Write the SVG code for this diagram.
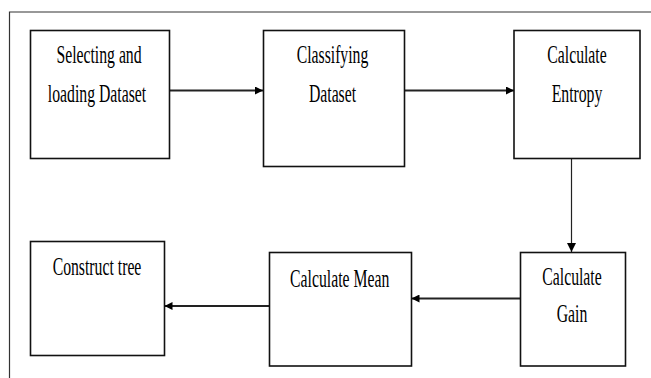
<svg xmlns="http://www.w3.org/2000/svg" width="651" height="378" viewBox="0 0 651 378">
<defs>
<style>
.box{fill:#fff;stroke:#111;stroke-width:1.6}
.t{font-family:"Liberation Serif","Times New Roman",serif;font-size:25px;fill:#000;text-anchor:middle}
.c{fill:none;stroke:#222;stroke-width:2}
.cv{fill:none;stroke:#222;stroke-width:1.2}
</style>
<marker id="ah" viewBox="0 0 10 10" refX="10" refY="5" markerWidth="8" markerHeight="8" markerUnits="userSpaceOnUse" orient="auto">
<path d="M0,0 L10,5 L0,10 z" fill="#000"/>
</marker>
<marker id="ahv" viewBox="0 0 10 10" refX="10" refY="5" markerWidth="10" markerHeight="9" markerUnits="userSpaceOnUse" orient="auto">
<path d="M0,0 L10,5 L0,10 z" fill="#000"/>
</marker>
</defs>
<rect width="651" height="378" fill="#fff"/>
<path d="M9.5,378 V12 H651" fill="none" stroke="#333" stroke-width="1.2"/>
<g id="connectors">
<line class="c" x1="170" y1="90.5" x2="263" y2="90.5" marker-end="url(#ah)"/>
<line class="c" x1="405" y1="90.5" x2="514" y2="90.5" marker-end="url(#ah)"/>
<line class="cv" x1="571.5" y1="158.5" x2="571.5" y2="252" marker-end="url(#ahv)"/>
<line class="c" x1="520.5" y1="298.5" x2="411.5" y2="298.5" marker-end="url(#ah)"/>
<line class="c" x1="269" y1="306" x2="164.5" y2="306" marker-end="url(#ah)"/>
</g>
<g id="n1">
<rect class="box" x="30.5" y="30.5" width="139" height="128"/>
<text class="t" transform="translate(99,63.3) scale(0.63,1)">Selecting and</text>
<text class="t" transform="translate(97,101.7) scale(0.63,1)">loading Dataset</text>
</g>
<g id="n2">
<rect class="box" x="263.5" y="30.5" width="141" height="136"/>
<text class="t" transform="translate(332.5,63.3) scale(0.63,1)">Classifying</text>
<text class="t" transform="translate(332.5,101.7) scale(0.63,1)">Dataset</text>
</g>
<g id="n3">
<rect class="box" x="514" y="30.5" width="126" height="128"/>
<text class="t" transform="translate(577,62.7) scale(0.63,1)">Calculate</text>
<text class="t" transform="translate(577,101.7) scale(0.63,1)">Entropy</text>
</g>
<g id="n4">
<rect class="box" x="520.5" y="252.5" width="105" height="113.5"/>
<text class="t" transform="translate(572,285) scale(0.63,1)">Calculate</text>
<text class="t" transform="translate(572,321.7) scale(0.63,1)">Gain</text>
</g>
<g id="n5">
<rect class="box" x="269.5" y="252.5" width="142" height="113.5"/>
<text class="t" transform="translate(339.7,286.7) scale(0.63,1)">Calculate Mean</text>
</g>
<g id="n6">
<rect class="box" x="30.5" y="241.5" width="134" height="114"/>
<text class="t" transform="translate(97,275) scale(0.63,1)">Construct tree</text>
</g>
</svg>
